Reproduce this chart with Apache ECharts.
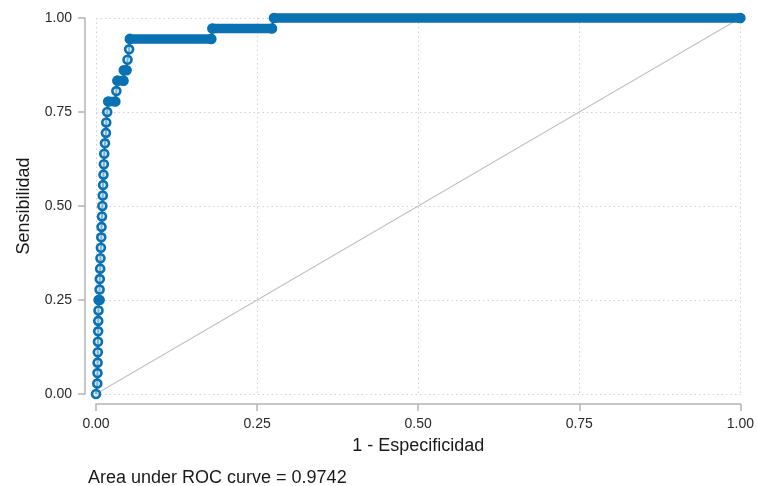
<!DOCTYPE html>
<html>
<head>
<meta charset="utf-8">
<script src="https://cdn.jsdelivr.net/npm/echarts@6/dist/echarts.min.js"></script>
<style>
  html, body { margin: 0; padding: 0; background: #fff; }
  #chart { width: 757px; height: 486px; }
</style>
</head>
<body>
<div id="chart"></div>
<script>
  // ROC points: 1 - specificity, sensitivity
  const fpr = [0, 0.0020, 0.0023, 0.0025, 0.0028, 0.0031, 0.0034, 0.0035, 0.0039,
    0.0040, 0.0056, 0.0056, 0.0059, 0.0065, 0.0069, 0.0076, 0.0082, 0.0086, 0.0093,
    0.0099, 0.0105, 0.0110, 0.0116, 0.0122, 0.0128, 0.0139, 0.0154, 0.0159, 0.0174,
    0.0190, 0.0300, 0.0316, 0.0332, 0.0427, 0.0432, 0.0474, 0.0489, 0.0514,
    0.0525, 0.1790, 0.1806, 0.2731, 0.2762, 1]
  const tprCount = [0, 1, 2, 3, 4, 5, 6, 7, 8,
    9, 9, 10, 11, 12, 13, 14, 15, 16, 17,
    18, 19, 20, 21, 22, 23, 24, 25, 26, 27,
    28, 28, 29, 30, 30, 31, 31, 32, 33,
    34, 34, 35, 35, 36, 36]
  const positives = 36
  // horizontal runs of tied points (start, end, level)
  const runStart = [0.0040, 0.0190, 0.0332, 0.0432, 0.0525, 0.1806, 0.2762]
  const runEnd = [0.0056, 0.0300, 0.0427, 0.0474, 0.1790, 0.2731, 1]
  const runLevel = [9, 28, 30, 31, 34, 35, 36]
  const ticks = [0, 0.25, 0.5, 0.75, 1]
  const auc = '0.9742'

  const blue = '#0a72b3'
  const rocData = fpr.map((x, i) => [x, tprCount[i] / positives])
  const runData = []
  runStart.forEach((s, i) => {
    runData.push([s, runLevel[i] / positives])
    runData.push([runEnd[i], runLevel[i] / positives])
    runData.push('-')
  })

  const chart = echarts.init(document.getElementById('chart'))
  const axisCommon = {
    type: 'value',
    min: ticks[0],
    max: ticks[ticks.length - 1],
    interval: 0.25,
    nameLocation: 'middle',
    nameTextStyle: { fontSize: 18, color: '#1a1a1a', fontFamily: 'Liberation Sans' },
    axisLine: { show: true, onZero: false, lineStyle: { color: '#b4b4b4', width: 1.5 } },
    axisTick: { show: true, length: 7, lineStyle: { color: '#b4b4b4', width: 1.5 } },
    axisLabel: {
      fontSize: 14, color: '#2a2a2a', fontFamily: 'Liberation Sans', margin: 13,
      formatter: v => v.toFixed(2)
    },
    splitLine: { show: true, lineStyle: { color: '#d2d2d2', type: [1.5, 3], width: 1 } }
  }

  chart.setOption({
    animation: false,
    grid: { left: 96, right: 13, top: 18, bottom: 92 },
    title: {
      text: 'Area under ROC curve = ' + auc,
      left: 88, top: 469, padding: 0,
      textStyle: { fontSize: 18, fontWeight: 'normal', color: '#1a1a1a', fontFamily: 'Liberation Sans' }
    },
    xAxis: Object.assign({}, axisCommon, { name: '1 - Especificidad', nameGap: 33, offset: 10 }),
    yAxis: Object.assign({}, axisCommon, { name: 'Sensibilidad', nameGap: 52, offset: 11 }),
    series: [
      {
        type: 'line',
        data: [[0, 0], [1, 1]],
        symbol: 'none',
        lineStyle: { color: '#c2c2c2', width: 1.2 },
        silent: true
      },
      {
        type: 'line',
        data: rocData,
        clip: false,
        symbol: 'circle',
        symbolSize: 8,
        showAllSymbol: true,
        lineStyle: { color: blue, width: 2 },
        itemStyle: { color: 'rgba(200,225,242,0.6)', borderColor: blue, borderWidth: 2.6 }
      },
      {
        type: 'line',
        data: runData,
        z: 5,
        symbol: 'none',
        clip: false,
        connectNulls: false,
        lineStyle: { color: blue, width: 9.5, cap: 'round' }
      }
    ]
  })
</script>
</body>
</html>
